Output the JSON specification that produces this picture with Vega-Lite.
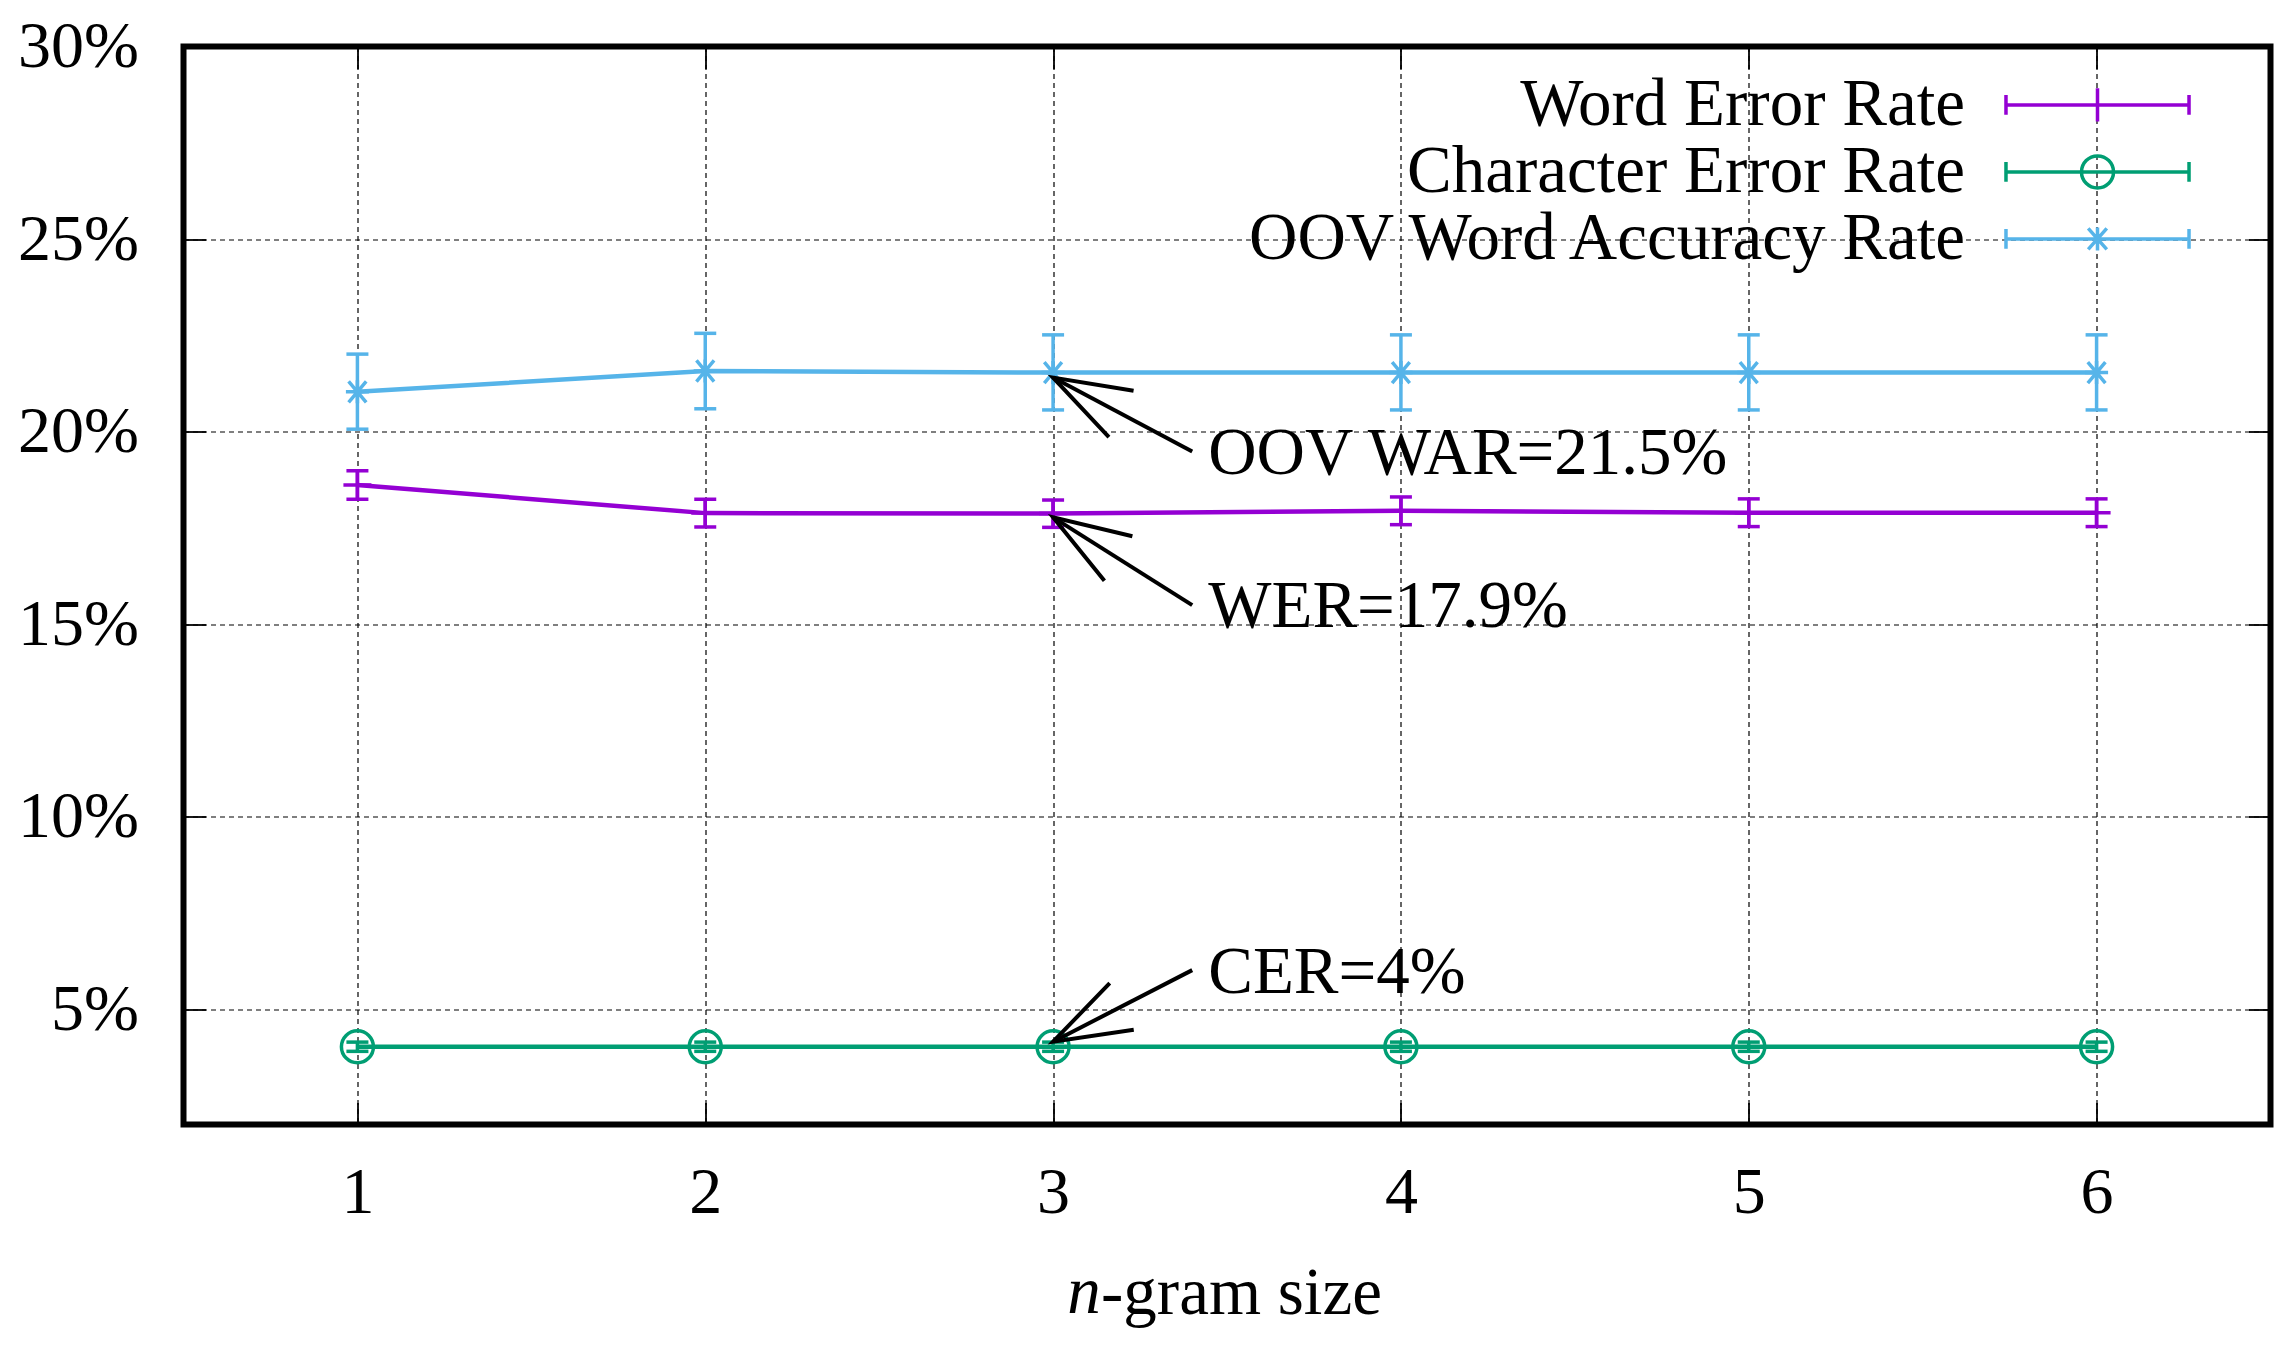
{
  "$schema": "https://vega.github.io/schema/vega-lite/v6.json",
  "autosize": "none",
  "width": 2087,
  "height": 1078,
  "padding": {"left": 183.5, "top": 46.5, "right": 25.5, "bottom": 228.5},
  "background": "white",
  "config": {
    "font": "Liberation Serif",
    "view": {"stroke": "black", "strokeWidth": 6},
    "axis": {
      "labelFont": "Liberation Serif",
      "labelFontSize": 66,
      "labelColor": "black",
      "titleFont": "Liberation Serif",
      "titleColor": "black",
      "tickColor": "black",
      "tickWidth": 1.8,
      "tickSize": -22,
      "domain": false,
      "gridColor": "black",
      "gridDash": [5, 4],
      "gridWidth": 1.2,
      "gridOpacity": 1
    },
    "legend": {
      "orient": "none",
      "legendX": 1880,
      "legendY": 24.4,
      "padding": 0,
      "rowPadding": 0,
      "symbolSize": 4096,
      "symbolStrokeWidth": 3.5,
      "symbolFillColor": "transparent",
      "labelFont": "Liberation Serif",
      "labelFontSize": 67,
      "labelColor": "black",
      "labelAlign": "right",
      "labelBaseline": "middle",
      "labelOffset": -166.5,
      "labelLimit": 0
    }
  },
  "datasets": {
    "runs": [
      {"n": 1, "series": "Word Error Rate", "value": 18.61, "lo": 18.24, "hi": 18.98},
      {"n": 2, "series": "Word Error Rate", "value": 17.88, "lo": 17.52, "hi": 18.24},
      {"n": 3, "series": "Word Error Rate", "value": 17.87, "lo": 17.51, "hi": 18.22},
      {"n": 4, "series": "Word Error Rate", "value": 17.94, "lo": 17.58, "hi": 18.3},
      {"n": 5, "series": "Word Error Rate", "value": 17.89, "lo": 17.53, "hi": 18.25},
      {"n": 6, "series": "Word Error Rate", "value": 17.89, "lo": 17.53, "hi": 18.25},
      {"n": 1, "series": "Character Error Rate", "value": 4.02, "lo": 3.9, "hi": 4.14},
      {"n": 2, "series": "Character Error Rate", "value": 4.02, "lo": 3.9, "hi": 4.14},
      {"n": 3, "series": "Character Error Rate", "value": 4.02, "lo": 3.9, "hi": 4.14},
      {"n": 4, "series": "Character Error Rate", "value": 4.02, "lo": 3.9, "hi": 4.14},
      {"n": 5, "series": "Character Error Rate", "value": 4.02, "lo": 3.9, "hi": 4.14},
      {"n": 6, "series": "Character Error Rate", "value": 4.02, "lo": 3.9, "hi": 4.14},
      {"n": 1, "series": "OOV Word Accuracy Rate", "value": 21.03, "lo": 20.06, "hi": 22.01},
      {"n": 2, "series": "OOV Word Accuracy Rate", "value": 21.57, "lo": 20.59, "hi": 22.55},
      {"n": 3, "series": "OOV Word Accuracy Rate", "value": 21.53, "lo": 20.56, "hi": 22.51},
      {"n": 4, "series": "OOV Word Accuracy Rate", "value": 21.53, "lo": 20.56, "hi": 22.51},
      {"n": 5, "series": "OOV Word Accuracy Rate", "value": 21.53, "lo": 20.56, "hi": 22.51},
      {"n": 6, "series": "OOV Word Accuracy Rate", "value": 21.53, "lo": 20.56, "hi": 22.51}
    ],
    "notes": [
      {"label": "OOV WAR=21.5%", "tx": 3.446, "ty": 18.9, "ax": 3.4, "ay": 19.48, "bx": 3, "by": 21.4},
      {"label": "WER=17.9%", "tx": 3.446, "ty": 14.93, "ax": 3.4, "ay": 15.49, "bx": 3, "by": 17.77},
      {"label": "CER=4%", "tx": 3.446, "ty": 5.42, "ax": 3.4, "ay": 6.01, "bx": 3, "by": 4.15}
    ]
  },
  "resolve": {"axis": {"x": "independent", "y": "independent"}},
  "layer": [
    {
      "data": {"name": "runs"},
      "mark": {"type": "line", "strokeWidth": 4.5},
      "encoding": {
        "x": {
          "field": "n",
          "type": "quantitative",
          "scale": {"domain": [0.5, 6.5], "nice": false, "zero": false},
          "axis": {
            "orient": "bottom",
            "values": [1, 2, 3, 4, 5, 6],
            "format": "d",
            "grid": true,
            "labelPadding": 110,
            "labelBaseline": "alphabetic",
            "labelFlush": false,
            "title": "-gram size",
            "titleFontSize": 67,
            "titleFontWeight": "normal",
            "titleX": 1057.5,
            "titleY": 188.5,
            "titleBaseline": "alphabetic"
          }
        },
        "y": {
          "field": "value",
          "type": "quantitative",
          "scale": {"domain": [2, 30], "nice": false, "zero": false},
          "axis": {
            "orient": "left",
            "values": [5, 10, 15, 20, 25, 30],
            "labelExpr": "datum.value + '%'",
            "grid": true,
            "labelPadding": 67,
            "labelFlush": false,
            "title": null
          }
        },
        "color": {
          "field": "series",
          "type": "nominal",
          "scale": {
            "domain": ["Word Error Rate", "Character Error Rate", "OOV Word Accuracy Rate"],
            "range": ["#9400D3", "#009E73", "#56B4E9"]
          },
          "legend": {"title": null}
        },
        "detail": {"field": "series"}
      }
    },
    {
      "data": {"name": "runs"},
      "mark": {"type": "rule", "strokeWidth": 3.5},
      "encoding": {
        "x": {"field": "n", "type": "quantitative", "axis": null},
        "y": {"field": "lo", "type": "quantitative", "axis": null},
        "y2": {"field": "hi"},
        "color": {"field": "series", "type": "nominal"}
      }
    },
    {
      "data": {"name": "runs"},
      "mark": {"type": "point", "filled": false, "shape": "M-1,0L1,0", "size": 484, "strokeWidth": 3.5, "opacity": 1},
      "encoding": {
        "x": {
          "field": "n",
          "type": "quantitative",
          "axis": {"orient": "top", "values": [1, 2, 3, 4, 5, 6], "labels": false, "grid": false, "title": null}
        },
        "y": {
          "field": "lo",
          "type": "quantitative",
          "axis": {"orient": "right", "values": [5, 10, 15, 20, 25, 30], "labels": false, "grid": false, "title": null}
        },
        "color": {"field": "series", "type": "nominal"}
      }
    },
    {
      "data": {"name": "runs"},
      "mark": {"type": "point", "filled": false, "shape": "M-1,0L1,0", "size": 484, "strokeWidth": 3.5, "opacity": 1},
      "encoding": {
        "x": {"field": "n", "type": "quantitative", "axis": null},
        "y": {"field": "hi", "type": "quantitative", "axis": null},
        "color": {"field": "series", "type": "nominal"}
      }
    },
    {
      "data": {"name": "runs"},
      "mark": {"type": "point", "filled": false, "size": 1024, "strokeWidth": 3.5, "opacity": 1},
      "encoding": {
        "x": {"field": "n", "type": "quantitative", "axis": null},
        "y": {"field": "value", "type": "quantitative", "axis": null},
        "color": {"field": "series", "type": "nominal"},
        "shape": {
          "condition": [
            {"test": "datum.series === 'Word Error Rate'", "value": "M-0.875,0L0.875,0M0,-0.875L0,0.875"},
            {"test": "datum.series === 'Character Error Rate'", "value": "M-1,0A1,1 0 1,0 1,0A1,1 0 1,0 -1,0"}
          ],
          "value": "M-0.72,0L0.72,0M0,-0.72L0,0.72M-0.55,-0.66L0.55,0.66M-0.55,0.66L0.55,-0.66"
        }
      }
    },
    {
      "data": {"name": "runs"},
      "transform": [{"filter": "false"}],
      "mark": {"type": "point", "filled": false, "opacity": 1},
      "encoding": {
        "color": {"field": "series", "type": "nominal"},
        "shape": {
          "field": "series",
          "type": "nominal",
          "legend": {"title": null},
          "scale": {
            "domain": ["Word Error Rate", "Character Error Rate", "OOV Word Accuracy Rate"],
            "range": [
              "M-2.86,0L2.86,0M-2.86,-0.31L-2.86,0.31M2.86,-0.31L2.86,0.31M0,-0.52L0,0.52",
              "M-2.86,0L2.86,0M-2.86,-0.31L-2.86,0.31M2.86,-0.31L2.86,0.31M-0.5,0A0.5,0.5 0 1,0 0.5,0A0.5,0.5 0 1,0 -0.5,0",
              "M-2.86,0L2.86,0M-2.86,-0.31L-2.86,0.31M2.86,-0.31L2.86,0.31M0,-0.36L0,0.36M-0.29,-0.33L0.29,0.33M-0.29,0.33L0.29,-0.33"
            ]
          }
        }
      }
    },
    {
      "data": {"name": "notes"},
      "mark": {"type": "rule", "strokeWidth": 4, "color": "black"},
      "encoding": {
        "x": {"field": "ax", "type": "quantitative", "axis": null},
        "y": {"field": "ay", "type": "quantitative", "axis": null},
        "x2": {"field": "bx"},
        "y2": {"field": "by"}
      }
    },
    {
      "data": {"name": "notes"},
      "mark": {"type": "point", "filled": false, "shape": "M-1,-0.34L0,0L-1,0.34", "size": 23839, "strokeWidth": 4, "color": "black", "opacity": 1},
      "encoding": {
        "x": {"field": "bx", "type": "quantitative", "axis": null},
        "y": {"field": "by", "type": "quantitative", "axis": null},
        "angle": {
          "condition": [
            {"test": "datum.label === 'OOV WAR=21.5%'", "value": 208},
            {"test": "datum.label === 'WER=17.9%'", "value": 212.2}
          ],
          "value": 152.8
        }
      }
    },
    {
      "data": {"name": "notes"},
      "mark": {"type": "text", "align": "left", "baseline": "alphabetic", "fontSize": 67, "font": "Liberation Serif", "color": "black"},
      "encoding": {
        "x": {"field": "tx", "type": "quantitative", "axis": null},
        "y": {"field": "ty", "type": "quantitative", "axis": null},
        "text": {"field": "label"}
      }
    },
    {
      "data": {"values": [{}]},
      "mark": {"type": "text", "align": "center", "baseline": "alphabetic", "fontSize": 67, "font": "Liberation Serif", "fontStyle": "italic", "color": "black"},
      "encoding": {
        "x": {"datum": 3.089, "type": "quantitative", "axis": null},
        "y": {"datum": -2.9, "type": "quantitative", "axis": null},
        "text": {"value": "n"}
      }
    }
  ]
}
